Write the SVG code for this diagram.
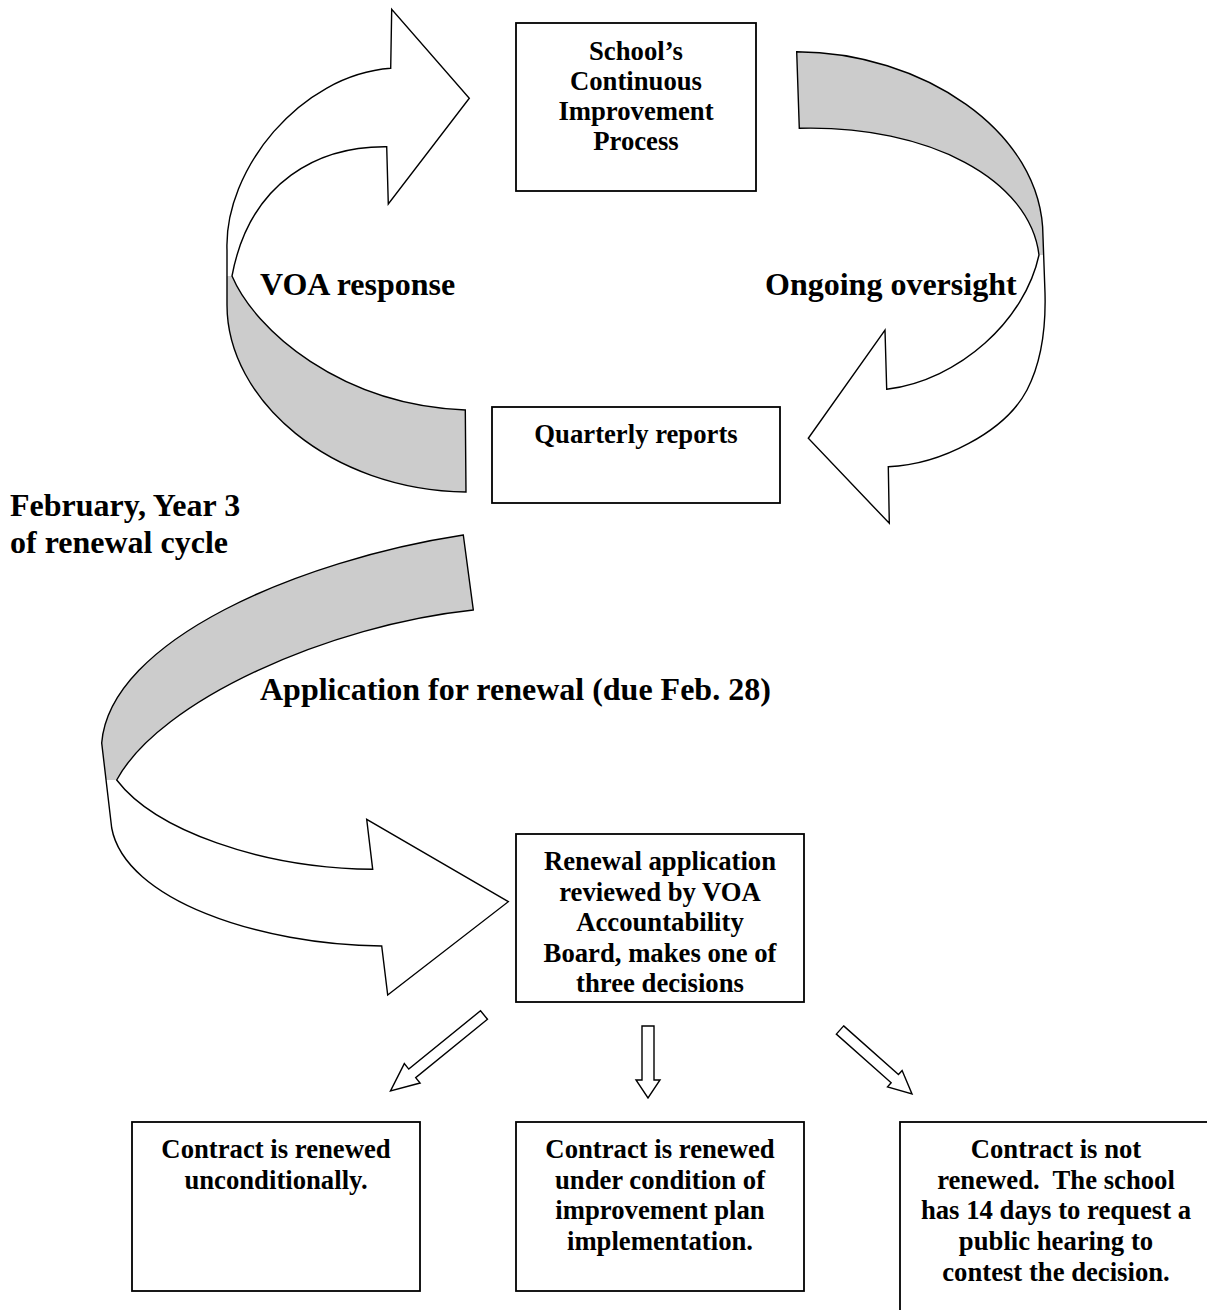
<svg xmlns="http://www.w3.org/2000/svg" width="1207" height="1310" viewBox="0 0 1207 1310">
<style>
  .box { fill: #ffffff; stroke: #000000; stroke-width: 1.8; }
  .bt { font-family: "Liberation Serif", "Times New Roman", serif; font-weight: bold; font-size: 26.7px; fill: #000000; text-anchor: middle; }
  .lbl { font-family: "Liberation Serif", "Times New Roman", serif; font-weight: bold; font-size: 32px; fill: #000000; }
  .wfill { fill: #ffffff; stroke: none; }
  .gfill { fill: #cccccc; stroke: none; }
  .outline { fill: none; stroke: #000000; stroke-width: 1.4; stroke-linejoin: miter; }
  .small { fill: #ffffff; stroke: #000000; stroke-width: 1.4; }
</style>
<rect x="0" y="0" width="1207" height="1310" fill="#ffffff"/>

<g id="connectors">
  <!-- Arrow A: VOA response (left loop, pointing right to top box) -->
  <g id="arrow-voa">
    <path class="wfill" d="M386.7,146.7 C320,146 250,180 232,276 C255,330 340,405 465.3,410 L466,492 C330,490 227,400 227,305 L227,250 C224,170 300,75 390.7,68.3 L391.7,9.3 L469.3,98.3 L388.3,204 Z"/>
    <path class="gfill" d="M232,276 C255,330 340,405 465.3,410 L466,492 C330,490 227,400 227,305 L227,276 Z"/>
    <path class="outline" d="M386.7,146.7 C320,146 250,180 232,276 C255,330 340,405 465.3,410 L466,492 C330,490 227,400 227,305 L227,250 C224,170 300,75 390.7,68.3 L391.7,9.3 L469.3,98.3 L388.3,204 Z"/>
  </g>
  <!-- Arrow B: Ongoing oversight (right loop, pointing left to quarterly box) -->
  <g id="arrow-oversight">
    <path class="wfill" d="M886.7,389.3 C960,380 1025,320 1039,255 C1030,180 930,125 799.3,128.3 L796.7,51.7 C920,52 1043,130 1043,237 L1045,293 C1046,330 1040,365 1027,390 C1005,432 940,465 888.3,466.7 L889.3,523.3 L808.3,438.3 L885,330 Z"/>
    <path class="gfill" d="M796.7,51.7 C920,52 1043,130 1043,237 L1043.6,255 L1039,255 C1030,180 930,125 799.3,128.3 Z"/>
    <path class="outline" d="M886.7,389.3 C960,380 1025,320 1039,255 C1030,180 930,125 799.3,128.3 L796.7,51.7 C920,52 1043,130 1043,237 L1045,293 C1046,330 1040,365 1027,390 C1005,432 940,465 888.3,466.7 L889.3,523.3 L808.3,438.3 L885,330 Z"/>
  </g>
  <!-- Arrow C: Application for renewal (big loop, pointing right to renewal box) -->
  <g id="arrow-application">
    <path class="wfill" d="M372.7,869.3 C260,868 155,830 116.7,780 C160,700 330,625 473.3,610 L463.3,535 C300,560 110,640 101.7,743 L111.7,828 C125,900 260,945 381.7,946 L387.7,995 L508.3,901.7 L366.7,819.3 Z"/>
    <path class="gfill" d="M463.3,535 C300,560 110,640 101.7,743 L106,780 L116.7,780 C160,700 330,625 473.3,610 Z"/>
    <path class="outline" d="M372.7,869.3 C260,868 155,830 116.7,780 C160,700 330,625 473.3,610 L463.3,535 C300,560 110,640 101.7,743 L111.7,828 C125,900 260,945 381.7,946 L387.7,995 L508.3,901.7 L366.7,819.3 Z"/>
  </g>
  <!-- Small decision arrows -->
  <path id="arrow-left" class="small" transform="translate(484,1015) rotate(140.9)" d="M0,-5.5 L92.5,-5.5 L92.5,-12.5 L120.5,0 L92.5,12.5 L92.5,5.5 L0,5.5 Z"/>
  <path id="arrow-mid" class="small" d="M642,1026 L654,1026 L654,1080 L660,1080 L648,1098 L636,1080 L642,1080 Z"/>
  <path id="arrow-right" class="small" transform="translate(840,1030) rotate(41.6)" d="M0,-5.5 L73.3,-5.5 L73.3,-11 L96.3,0 L73.3,11 L73.3,5.5 L0,5.5 Z"/>
</g>

<g id="labels">
  <text class="lbl" x="260" y="295">VOA response</text>
  <text class="lbl" x="765" y="295">Ongoing oversight</text>
  <text class="lbl" x="10" y="516">February, Year 3</text>
  <text class="lbl" x="10" y="553">of renewal cycle</text>
  <text class="lbl" x="260" y="700">Application for renewal (due Feb. 28)</text>
</g>

<g id="node-school">
  <rect class="box" x="516" y="23" width="240" height="168"/>
  <text class="bt" x="636" y="60">School’s</text>
  <text class="bt" x="636" y="90">Continuous</text>
  <text class="bt" x="636" y="120">Improvement</text>
  <text class="bt" x="636" y="150">Process</text>
</g>

<g id="node-quarterly">
  <rect class="box" x="492" y="407" width="288" height="96"/>
  <text class="bt" x="636" y="443">Quarterly reports</text>
</g>

<g id="node-renewal">
  <rect class="box" x="516" y="834" width="288" height="168"/>
  <text class="bt" x="660" y="870">Renewal application</text>
  <text class="bt" x="660" y="900.6">reviewed by VOA</text>
  <text class="bt" x="660" y="931.2">Accountability</text>
  <text class="bt" x="660" y="961.8">Board, makes one of</text>
  <text class="bt" x="660" y="992.4">three decisions</text>
</g>

<g id="node-unconditional">
  <rect class="box" x="132" y="1122" width="288" height="169"/>
  <text class="bt" x="276" y="1158">Contract is renewed</text>
  <text class="bt" x="276" y="1188.7">unconditionally.</text>
</g>

<g id="node-conditional">
  <rect class="box" x="516" y="1122" width="288" height="169"/>
  <text class="bt" x="660" y="1158">Contract is renewed</text>
  <text class="bt" x="660" y="1188.7">under condition of</text>
  <text class="bt" x="660" y="1219.4">improvement plan</text>
  <text class="bt" x="660" y="1250.1">implementation.</text>
</g>

<g id="node-not-renewed">
  <rect class="box" x="900" y="1122" width="320" height="220"/>
  <text class="bt" x="1056" y="1158">Contract is not</text>
  <text class="bt" x="1056" y="1188.7">renewed.&#160; The school</text>
  <text class="bt" x="1056" y="1219.4">has 14 days to request a</text>
  <text class="bt" x="1056" y="1250.1">public hearing to</text>
  <text class="bt" x="1056" y="1280.8">contest the decision.</text>
</g>
</svg>
